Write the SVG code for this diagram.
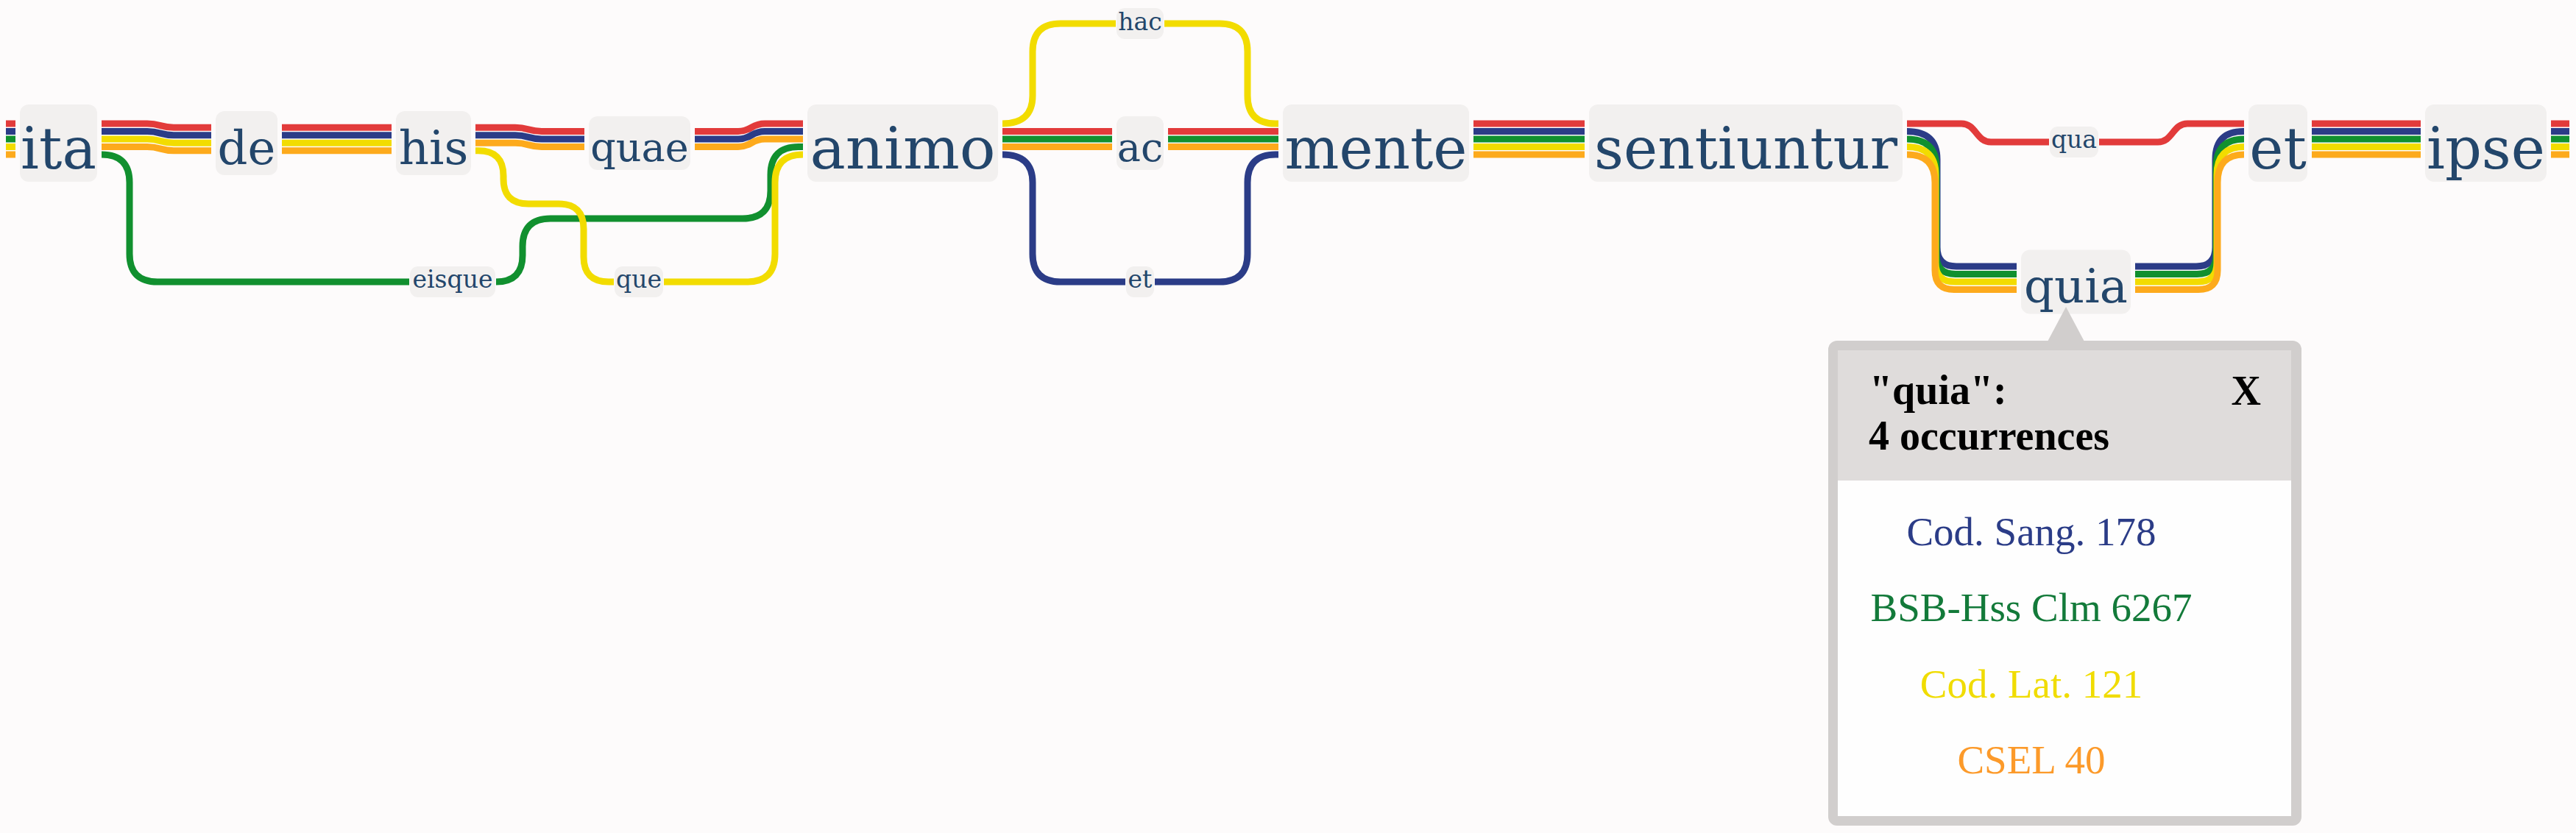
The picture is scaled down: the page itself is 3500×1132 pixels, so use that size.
<svg xmlns="http://www.w3.org/2000/svg" width="3500" height="1132" viewBox="0 0 3500 1132">
<style>
.bg{fill:#fdfbfb}
.box{fill:#f2f0ef}
.w{font-family:"DejaVu Serif",serif;fill:#23466b;text-anchor:middle}
.f78{font-size:78px}.f64{font-size:64px}.f54{font-size:54px}.f33{font-size:33px}
.c{fill:none;stroke-width:9;stroke-linecap:butt;stroke-linejoin:round}
.r{stroke:#e23b3b}.b{stroke:#2b3c87}.g{stroke:#11902f}.y{stroke:#f2dc00}.o{stroke:#fdaa1c}
.pb{fill:#d1cecd}.ph{fill:#dfdcdb}.pw{fill:#fefefe}
.pt{font-family:"Liberation Serif","Times New Roman",serif;font-size:56px;font-weight:bold;fill:#000}
.pe{font-family:"Liberation Serif","Times New Roman",serif;font-size:55px;text-anchor:middle}
</style>
<rect class="bg" x="0" y="0" width="3500" height="1132"/>

<g id="connectors">
  <!-- left stub -->
  <path class="c r" d="M8,168 H21"/><path class="c b" d="M8,178.5 H21"/><path class="c g" d="M8,189 H21"/><path class="c y" d="M8,199.5 H21"/><path class="c o" d="M8,210 H21"/>
  <!-- ita -> de -->
  <path class="c r" d="M138,168 H200 C218,168 218,173.25 236,173.25 H287"/>
  <path class="c b" d="M138,178.5 H200 C218,178.5 218,183.75 236,183.75 H287"/>
  <path class="c y" d="M138,189 H200 C218,189 218,194.25 236,194.25 H287"/>
  <path class="c o" d="M138,199.5 H200 C218,199.5 218,204.75 236,204.75 H287"/>
  <!-- ita -> eisque -> animo (green) -->
  <path class="c g" d="M138,210 Q176,210 176,248 V345 Q176,383 214,383 H556"/>
  <path class="c g" d="M674,383 Q710,383 710,347 V335 Q710,297 748,297 H1009 Q1047,297 1047,259 V237.5 Q1047,199.5 1085,199.5 H1091"/>
  <!-- de -> his -->
  <path class="c r" d="M383,173.25 H532"/><path class="c b" d="M383,183.75 H532"/><path class="c y" d="M383,194.25 H532"/><path class="c o" d="M383,204.75 H532"/>
  <!-- his -> quae -->
  <path class="c r" d="M646,173.25 H700 C718,173.25 718,178.5 736,178.5 H794"/>
  <path class="c b" d="M646,183.75 H700 C718,183.75 718,189 736,189 H794"/>
  <path class="c o" d="M646,194.25 H700 C718,194.25 718,199.5 736,199.5 H794"/>
  <!-- his -> que -> animo (yellow) -->
  <path class="c y" d="M646,204.75 H650 Q684,204.75 684,239 V243 Q684,277 718,277 H759 Q793,277 793,311 V349 Q793,383 827,383 H834"/>
  <path class="c y" d="M902,383 H1015 Q1053,383 1053,345 V248 Q1053,210 1091,210"/>
  <!-- quae -> animo -->
  <path class="c r" d="M944,178.5 H1003 C1021,178.5 1021,168 1039,168 H1091"/>
  <path class="c b" d="M944,189 H1003 C1021,189 1021,178.5 1039,178.5 H1091"/>
  <path class="c o" d="M944,199.5 H1003 C1021,199.5 1021,189 1039,189 H1091"/>
  <!-- animo -> hac -> mente (yellow) -->
  <path class="c y" d="M1362,168 Q1403,168 1403,130 V70 Q1403,32 1441,32 H1516"/>
  <path class="c y" d="M1582,32 H1657 Q1695,32 1695,70 V130 Q1695,168 1733,168 H1737"/>
  <!-- animo -> ac -> mente -->
  <path class="c r" d="M1362,178.5 H1511"/><path class="c g" d="M1362,189 H1511"/><path class="c o" d="M1362,199.5 H1511"/>
  <path class="c r" d="M1587,178.5 H1737"/><path class="c g" d="M1587,189 H1737"/><path class="c o" d="M1587,199.5 H1737"/>
  <!-- animo -> et -> mente (blue) -->
  <path class="c b" d="M1362,210 Q1403,210 1403,248 V345 Q1403,383 1441,383 H1529"/>
  <path class="c b" d="M1569,383 H1657 Q1695,383 1695,345 V248 Q1695,210 1733,210 H1737"/>
  <!-- mente -> sentiuntur -->
  <path class="c r" d="M2002,168 H2153"/><path class="c b" d="M2002,178.5 H2153"/><path class="c g" d="M2002,189 H2153"/><path class="c y" d="M2002,199.5 H2153"/><path class="c o" d="M2002,210 H2153"/>
  <!-- sentiuntur -> qua -> et (red) -->
  <path class="c r" d="M2591,168 H2665 C2685,168 2685,193 2705,193 H2784"/>
  <path class="c r" d="M2852,193 H2932 C2952,193 2952,168 2972,168 H3049"/>
  <!-- sentiuntur -> quia -->
  <path class="c b" d="M2591,178.5 Q2632,178.5 2632,216.5 V336 Q2632,362 2658,362 H2740"/>
  <path class="c g" d="M2591,189 Q2631,189 2631,227 V346.5 Q2631,372.5 2657,372.5 H2740"/>
  <path class="c y" d="M2591,199.5 Q2630,199.5 2630,237.5 V357 Q2630,383 2656,383 H2740"/>
  <path class="c o" d="M2591,210 Q2629,210 2629,248 V367.5 Q2629,393.5 2655,393.5 H2740"/>
  <!-- quia -> et -->
  <path class="c b" d="M2901,362 H2984 Q3010,362 3010,336 V216.5 Q3010,178.5 3048,178.5 H3049"/>
  <path class="c g" d="M2901,372.5 H2985 Q3011,372.5 3011,346.5 V227 Q3011,189 3049,189"/>
  <path class="c y" d="M2901,383 H2986 Q3012,383 3012,357 V237.5 Q3012,199.5 3049,199.5"/>
  <path class="c o" d="M2901,393.5 H2987 Q3013,393.5 3013,367.5 V248 Q3013,210 3049,210"/>
  <!-- et -> ipse -->
  <path class="c r" d="M3141,168 H3289"/><path class="c b" d="M3141,178.5 H3289"/><path class="c g" d="M3141,189 H3289"/><path class="c y" d="M3141,199.5 H3289"/><path class="c o" d="M3141,210 H3289"/>
  <!-- right stub -->
  <path class="c r" d="M3466,168 H3491"/><path class="c b" d="M3466,178.5 H3491"/><path class="c g" d="M3466,189 H3491"/><path class="c y" d="M3466,199.5 H3491"/><path class="c o" d="M3466,210 H3491"/>
</g>

<g id="node-ita"><rect class="box" x="27" y="142" width="105" height="105" rx="12"/><text class="w f78" x="79.5" y="229">ita</text></g>
<g id="node-de"><rect class="box" x="293" y="151" width="84" height="87" rx="12"/><text class="w f64" x="335" y="222.5">de</text></g>
<g id="node-his"><rect class="box" x="538" y="151" width="102" height="87" rx="12"/><text class="w f64" x="589" y="222.5">his</text></g>
<g id="node-quae"><rect class="box" x="800" y="158" width="138" height="73" rx="12"/><text class="w f54" x="869" y="218.5">quae</text></g>
<g id="node-eisque"><rect class="box" x="557" y="362" width="116" height="42" rx="11"/><text class="w f33" x="615" y="391">eisque</text></g>
<g id="node-que"><rect class="box" x="835" y="362" width="66" height="42" rx="11"/><text class="w f33" x="868" y="391">que</text></g>
<g id="node-animo"><rect class="box" x="1097" y="142" width="259" height="105" rx="12"/><text class="w f78" x="1226.5" y="229" textLength="252" lengthAdjust="spacingAndGlyphs">animo</text></g>
<g id="node-hac"><rect class="box" x="1517" y="11" width="64" height="42" rx="11"/><text class="w f33" x="1549" y="41">hac</text></g>
<g id="node-ac"><rect class="box" x="1517" y="158" width="64" height="73" rx="12"/><text class="w f54" x="1549" y="218.5">ac</text></g>
<g id="node-et-small"><rect class="box" x="1530" y="362" width="38" height="42" rx="11"/><text class="w f33" x="1549" y="391">et</text></g>
<g id="node-mente"><rect class="box" x="1743" y="142" width="253" height="105" rx="12"/><text class="w f78" x="1869.5" y="229">mente</text></g>
<g id="node-sentiuntur"><rect class="box" x="2159" y="142" width="426" height="105" rx="12"/><text class="w f78" x="2372" y="229">sentiuntur</text></g>
<g id="node-qua"><rect class="box" x="2785" y="172" width="66" height="42" rx="11"/><text class="w f33" x="2818" y="201">qua</text></g>
<g id="node-quia"><rect class="box" x="2746" y="339.5" width="149" height="87" rx="12"/><text class="w f64" x="2820.5" y="411">quia</text></g>
<g id="node-et"><rect class="box" x="3055" y="142" width="80" height="105" rx="12"/><text class="w f78" x="3095" y="229">et</text></g>
<g id="node-ipse"><rect class="box" x="3295" y="142" width="165" height="105" rx="12"/><text class="w f78" x="3377.5" y="229">ipse</text></g>

<g id="popup">
  <polygon class="pb" points="2782,464 2807,417 2832,464"/>
  <rect class="pb" x="2484" y="463" width="643" height="659" rx="12"/>
  <rect class="pw" x="2497" y="476" width="616" height="633"/>
  <rect class="ph" x="2497" y="476" width="616" height="177"/>
  <text class="pt" x="2540" y="549">"quia":</text>
  <text class="pt" x="2539" y="611">4 occurrences</text>
  <text class="pt" x="3072" y="550" text-anchor="end">X</text>
  <text class="pe" x="2760" y="741" fill="#2b3c87">Cod. Sang. 178</text>
  <text class="pe" x="2760" y="844" fill="#137a3a">BSB-Hss Clm 6267</text>
  <text class="pe" x="2760" y="948" fill="#f0dc00">Cod. Lat. 121</text>
  <text class="pe" x="2760" y="1051" fill="#fc9a2a">CSEL 40</text>
</g>
</svg>
